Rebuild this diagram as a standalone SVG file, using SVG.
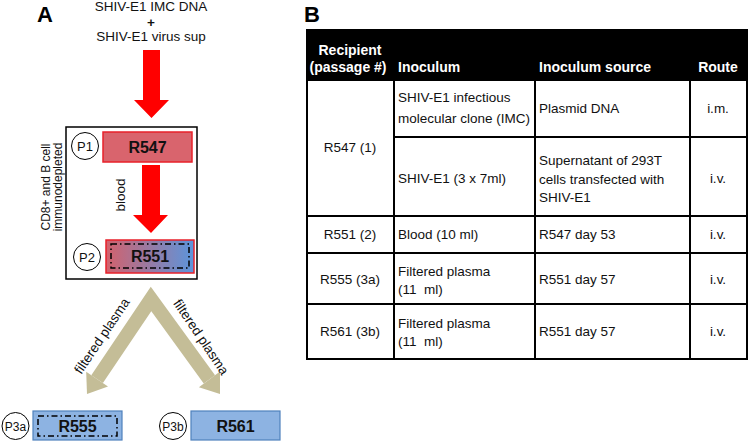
<svg xmlns="http://www.w3.org/2000/svg" width="750" height="447" viewBox="0 0 750 447">
<style>
text{font-family:"Liberation Sans",Arial,sans-serif;fill:#111}
.lbl{font-size:13.5px}
.pan{font-size:22px;font-weight:bold;fill:#000}
.node{font-size:16px;font-weight:bold;text-anchor:middle;fill:#111}
.circ{fill:#fff;stroke:#000;stroke-width:1}
.ctext{font-size:13px;text-anchor:middle}
.dd{fill:none;stroke:#000;stroke-width:1.5;stroke-dasharray:6 3 1.5 3}
.hdr{font-size:14px;font-weight:bold;fill:#fff}
.td{font-size:13.5px}
.mid{text-anchor:middle}
.grid{stroke:#000;stroke-width:2;fill:none}
.red{fill:#ff0000}
.tan{fill:#c4bd97}
</style>
<defs>
<linearGradient id="g551" x1="0" y1="0" x2="1" y2="0">
<stop offset="0" stop-color="#d3616c"/>
<stop offset="1" stop-color="#5b95dd"/>
</linearGradient>
</defs>

<text class="pan" x="37" y="22">A</text>
<text class="pan" x="304" y="22">B</text>

<g id="source">
<text class="lbl mid" x="151" y="11">SHIV-E1 IMC DNA</text>
<text class="lbl mid" x="151" y="27" style="font-weight:bold">+</text>
<text class="lbl mid" x="151" y="41">SHIV-E1 virus sup</text>
</g>

<g id="connectors">
<polygon class="red" points="143,50 160,50 160,100 169,100 151.5,118 134,100 143,100"/>
<polygon class="red" points="142,165 160,165 160,215 168,215 151,233 133,215 142,215"/>
<polyline points="97.1,379.1 151,299 209.4,379.4" fill="none" stroke="#c4bd97" stroke-width="14" stroke-linejoin="miter"/>
<polygon class="tan" points="108,386.5 87,394 86.2,371.7"/>
<polygon class="tan" points="220,371.6 220,394 198.9,387.2"/>
<text class="lbl mid" transform="translate(125,195) rotate(-90)" x="0" y="0">blood</text>
<text class="lbl mid" transform="translate(102,336) rotate(-56)" x="0" y="4.5">filtered plasma</text>
<text class="lbl mid" transform="translate(201,337) rotate(56)" x="0" y="4.5">filtered plasma</text>
</g>

<g id="depleted-box">
<rect x="66" y="127" width="131" height="152" fill="none" stroke="#000" stroke-width="1.5"/>
<text class="mid" style="font-size:12px" transform="translate(50,187) rotate(-90)"><tspan x="0" y="0">CD8+ and B cell</tspan><tspan x="0" y="12">immunodepleted</tspan></text>
</g>

<g id="P1">
<circle class="circ" cx="85" cy="146" r="13.5"/>
<text class="ctext" x="85" y="151">P1</text>
</g>
<g id="R547">
<rect x="103" y="132" width="89" height="30" fill="#d9646d" stroke="#e8202a" stroke-width="1.5"/>
<text class="node" x="147.5" y="153">R547</text>
</g>

<g id="P2">
<circle class="circ" cx="87" cy="257" r="13.5"/>
<text class="ctext" x="87" y="262">P2</text>
</g>
<g id="R551">
<rect x="106" y="240" width="88" height="33" fill="url(#g551)" stroke="#e8202a" stroke-width="1.5"/>
<rect class="dd" x="111" y="244" width="78" height="24"/>
<text class="node" x="150" y="262">R551</text>
</g>

<g id="P3a">
<circle class="circ" cx="15.5" cy="426" r="13.5"/>
<text class="ctext" style="font-size:12px" x="15.5" y="430.5">P3a</text>
</g>
<g id="R555">
<rect x="33" y="411" width="89" height="29" fill="#8db3e2" stroke="#4f81bd" stroke-width="1.2"/>
<rect class="dd" x="38" y="416" width="79" height="20"/>
<text class="node" x="77.5" y="432">R555</text>
</g>

<g id="P3b">
<circle class="circ" cx="173" cy="426" r="13.5"/>
<text class="ctext" style="font-size:12px" x="173" y="430.5">P3b</text>
</g>
<g id="R561">
<rect x="191" y="411" width="89" height="29" fill="#8db3e2" stroke="#4f81bd" stroke-width="1.2"/>
<text class="node" x="235.5" y="432">R561</text>
</g>

<g id="table">
<rect x="307" y="30" width="440" height="50" fill="#000"/>
<rect class="grid" x="307" y="30" width="440" height="329" stroke-width="1.5"/>
<line class="grid" x1="307" y1="80" x2="747" y2="80"/>
<line class="grid" x1="394" y1="137" x2="747" y2="137"/>
<line class="grid" x1="307" y1="216" x2="747" y2="216"/>
<line class="grid" x1="307" y1="253" x2="747" y2="253"/>
<line class="grid" x1="307" y1="304" x2="747" y2="304"/>
<line class="grid" x1="394" y1="80" x2="394" y2="359"/>
<line class="grid" x1="535" y1="80" x2="535" y2="359"/>
<line class="grid" x1="690" y1="80" x2="690" y2="359"/>

<text class="hdr mid" x="350" y="55">Recipient</text>
<text class="hdr mid" x="348" y="72">(passage #)</text>
<text class="hdr" x="398" y="72">Inoculum</text>
<text class="hdr" x="539" y="72">Inoculum source</text>
<text class="hdr mid" x="718" y="72">Route</text>

<text class="td mid" x="350" y="152">R547 (1)</text>
<text class="td" x="398" y="102">SHIV-E1 infectious</text>
<text class="td" x="398" y="123">molecular clone (IMC)</text>
<text class="td" x="539" y="113">Plasmid DNA</text>
<text class="td mid" x="718" y="113">i.m.</text>

<text class="td" x="398" y="183">SHIV-E1 (3 x 7ml)</text>
<text class="td" x="539" y="165">Supernatant of 293T</text>
<text class="td" x="539" y="184">cells transfected with</text>
<text class="td" x="539" y="202">SHIV-E1</text>
<text class="td mid" x="718" y="183">i.v.</text>

<text class="td mid" x="350" y="239">R551 (2)</text>
<text class="td" x="398" y="239">Blood (10 ml)</text>
<text class="td" x="539" y="239">R547 day 53</text>
<text class="td mid" x="718" y="239">i.v.</text>

<text class="td mid" x="350" y="284">R555 (3a)</text>
<text class="td" x="398" y="276">Filtered plasma</text>
<text class="td" x="398" y="294" style="white-space:pre">(11  ml)</text>
<text class="td" x="539" y="284">R551 day 57</text>
<text class="td mid" x="718" y="284">i.v.</text>

<text class="td mid" x="350" y="336">R561 (3b)</text>
<text class="td" x="398" y="328">Filtered plasma</text>
<text class="td" x="398" y="346" style="white-space:pre">(11  ml)</text>
<text class="td" x="539" y="336">R551 day 57</text>
<text class="td mid" x="718" y="336">i.v.</text>
</g>
</svg>
